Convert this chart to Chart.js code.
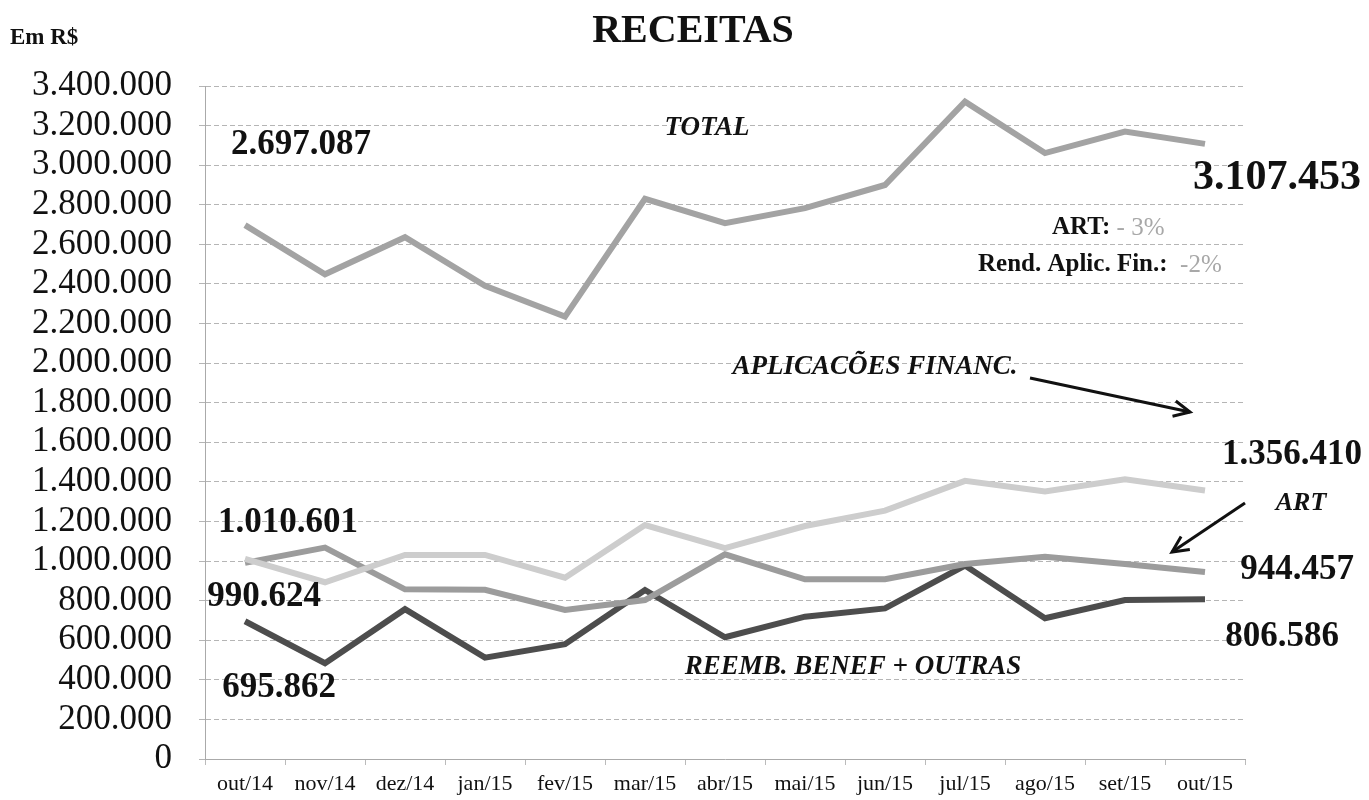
<!DOCTYPE html>
<html>
<head>
<meta charset="utf-8">
<script src="https://cdn.jsdelivr.net/npm/chart.js@4.4.1/dist/chart.umd.min.js"></script>
<style>
  html, body { margin: 0; padding: 0; background: #fff; overflow: hidden; }
  #receitasChart { display: block; }
</style>
</head>
<body>
<canvas id="receitasChart" width="1369" height="807"></canvas>
<script>
const meses = ["out/14", "nov/14", "dez/14", "jan/15", "fev/15", "mar/15", "abr/15",
               "mai/15", "jun/15", "jul/15", "ago/15", "set/15", "out/15"];

const total       = [2697087, 2449000, 2636000, 2390000, 2235000, 2830000, 2707000,
                     2783000, 2900000, 3321000, 3061000, 3170000, 3107453];
const aplicFinanc = [1010601, 893000, 1031000, 1031000, 916000, 1182000, 1065000,
                     1177000, 1255000, 1405000, 1351000, 1413000, 1356410];
const art         = [990624, 1068000, 857000, 855000, 753000, 803000, 1034000,
                     908000, 908000, 985000, 1022000, 985000, 944457];
const reembOutras = [695862, 484000, 757000, 512000, 580000, 854000, 615000,
                     719000, 761000, 977000, 711000, 803000, 806586];

const yMax = 3400000;
const yStep = 200000;

function fmtBR(v) {
  return String(Math.round(v)).replace(/\B(?=(\d{3})+(?!\d))/g, ".");
}

const SERIF = '"Liberation Serif", "Times New Roman", serif';

function txt(ctx, s, x, y, font, color, align) {
  ctx.font = font;
  ctx.fillStyle = color;
  ctx.textAlign = align || "left";
  ctx.textBaseline = "middle";
  ctx.fillText(s, x, y);
}

function seta(ctx, x1, y1, x2, y2) {
  ctx.strokeStyle = "#111";
  ctx.lineWidth = 3;
  ctx.beginPath();
  ctx.moveTo(x1, y1);
  ctx.lineTo(x2, y2);
  ctx.stroke();
  const a = Math.atan2(y2 - y1, x2 - x1);
  const L = 18;
  ctx.beginPath();
  ctx.moveTo(x2 - L * Math.cos(a - 0.45), y2 - L * Math.sin(a - 0.45));
  ctx.lineTo(x2, y2);
  ctx.lineTo(x2 - L * Math.cos(a + 0.45), y2 - L * Math.sin(a + 0.45));
  ctx.stroke();
}

// textos soltos do grafico (titulo, valores, nomes das series)
const anotacoes = {
  id: "anotacoes",
  afterDraw(chart) {
    const ctx = chart.ctx;
    ctx.save();
    txt(ctx, "RECEITAS", 693, 32, "bold 40px " + SERIF, "#111", "center");
    txt(ctx, "Em R$", 10, 38, "bold 23px " + SERIF, "#111");

    txt(ctx, "2.697.087", 301, 145, "bold 35px " + SERIF, "#111", "center");
    txt(ctx, "TOTAL", 707, 128, "italic bold 27px " + SERIF, "#111", "center");
    txt(ctx, "3.107.453", 1277, 178, "bold 42px " + SERIF, "#111", "center");

    ctx.font = "bold 25px " + SERIF;
    const wArt = ctx.measureText("ART: ").width;
    const wRend = ctx.measureText("Rend. Aplic. Fin.:  ").width;
    txt(ctx, "ART: ", 1052, 228, "bold 25px " + SERIF, "#111");
    txt(ctx, "- 3%", 1052 + wArt, 228, "25px " + SERIF, "#a8a8a8");
    txt(ctx, "Rend. Aplic. Fin.:  ", 978, 265, "bold 25px " + SERIF, "#111");
    txt(ctx, "-2%", 978 + wRend, 265, "25px " + SERIF, "#a8a8a8");

    txt(ctx, "APLICACÕES FINANC.", 875, 367, "italic bold 27px " + SERIF, "#111", "center");
    seta(ctx, 1030, 378, 1190, 412);

    txt(ctx, "1.356.410", 1292, 455, "bold 35px " + SERIF, "#111", "center");
    txt(ctx, "ART", 1301, 503, "italic bold 26px " + SERIF, "#111", "center");
    seta(ctx, 1245, 503, 1172, 552);
    txt(ctx, "944.457", 1297, 570, "bold 35px " + SERIF, "#111", "center");
    txt(ctx, "806.586", 1282, 637, "bold 35px " + SERIF, "#111", "center");
    txt(ctx, "REEMB. BENEF + OUTRAS", 853, 667, "italic bold 27px " + SERIF, "#111", "center");

    txt(ctx, "1.010.601", 288, 523, "bold 35px " + SERIF, "#111", "center");
    txt(ctx, "990.624", 264, 597, "bold 35px " + SERIF, "#111", "center");
    txt(ctx, "695.862", 279, 688, "bold 35px " + SERIF, "#111", "center");
    ctx.restore();
  }
};

function serie(label, data, color, width) {
  return {
    label: label,
    data: data,
    borderColor: color,
    backgroundColor: color,
    borderWidth: width,
    pointRadius: 0,
    tension: 0,
    fill: false
  };
}

const ctx = document.getElementById("receitasChart").getContext("2d");
new Chart(ctx, {
  type: "line",
  data: {
    labels: meses,
    datasets: [
      serie("TOTAL", total, "#a3a3a3", 6),
      serie("APLICACÕES FINANC.", aplicFinanc, "#cdcdcd", 6),
      serie("ART", art, "#9c9c9c", 6),
      serie("REEMB. BENEF + OUTRAS", reembOutras, "#4d4d4d", 6)
    ]
  },
  options: {
    responsive: false,
    animation: false,
    layout: { padding: { top: 86, right: 124, left: 0, bottom: 0 } },
    plugins: {
      legend: { display: false },
      tooltip: { enabled: false }
    },
    scales: {
      x: {
        offset: true,
        afterFit: s => { s.height = 41; },
        grid: { display: true, drawOnChartArea: false, drawTicks: true, tickLength: 6, color: "#bbb", offset: true },
        border: { display: true, color: "#aaa", width: 1 },
        ticks: { color: "#111", padding: 6, font: { family: SERIF, size: 22 }, maxRotation: 0, autoSkip: false }
      },
      y: {
        min: 0,
        max: yMax,
        afterFit: s => { s.width = 205; },
        grid: { color: "#b5b5b5", lineWidth: 1, drawTicks: true, tickLength: 6 },
        border: { display: true, color: "#aaa", width: 1, dash: [5, 3] },
        ticks: {
          stepSize: yStep,
          autoSkip: false,
          color: "#111",
          padding: 27,
          font: { family: SERIF, size: 35 },
          callback: v => fmtBR(v)
        }
      }
    }
  },
  plugins: [anotacoes]
});
</script>
</body>
</html>
